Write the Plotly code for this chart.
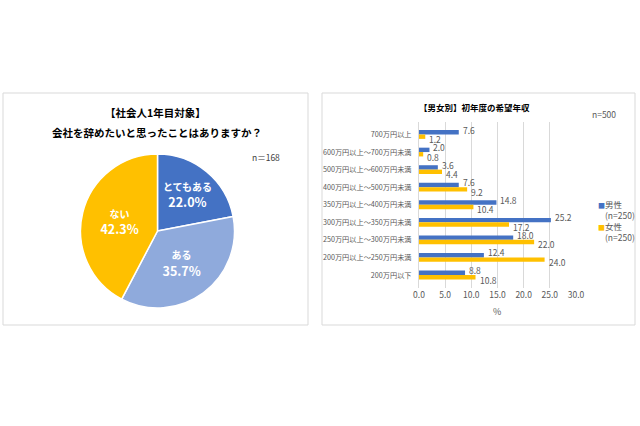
import plotly.graph_objects as go

W, H = 640, 426
FONT = "Noto Sans CJK JP"

# Pie data
pie_labels = ["とてもある", "ある", "ない"]
pie_values = [22.0, 35.7, 42.3]
pie_colors = ["#4472C4", "#8FAADC", "#FFC000"]

# Bar data
categories = ["700万円以上", "600万円以上～700万円未満", "500万円以上～600万円未満",
              "400万円以上～500万円未満", "350万円以上～400万円未満", "300万円以上～350万円未満",
              "250万円以上～300万円未満", "200万円以上～250万円未満", "200万円以下"]
male = [7.6, 2.0, 3.6, 7.6, 14.8, 25.2, 18.0, 12.4, 8.8]
female = [1.2, 0.8, 4.4, 9.2, 10.4, 17.2, 22.0, 24.0, 10.8]
series_names = ["男性", "女性"]
series_n = ["(n=250)", "(n=250)"]
bar_colors = ["#4472C4", "#FFC000"]
x_ticks = [0, 5, 10, 15, 20, 25, 30]

GRAY = "#595959"


def px(x):
    return x / W


def py(y):
    return 1 - y / H


fig = go.Figure()

fig.add_trace(go.Pie(
    labels=pie_labels, values=pie_values, sort=False, direction="clockwise",
    rotation=0,
    marker=dict(colors=pie_colors, line=dict(color="white", width=1.5)),
    texttemplate="<span style='font-size:10px'>%{label}</span><br>%{percent:.1%}",
    textinfo="text",
    textposition="inside", insidetextorientation="horizontal",
    textfont=dict(family=FONT, size=12.5, color="white", weight="bold"),
    domain=dict(x=[px(80), px(235)], y=[py(308), py(154)]),
    showlegend=False, hoverinfo="skip",
))

for vals, name, col in zip([male, female], series_names, bar_colors):
    fig.add_trace(go.Bar(
        y=categories, x=vals, orientation="h", name=name,
        marker=dict(color=col, line=dict(width=0)),
        xaxis="x", yaxis="y", showlegend=False, hoverinfo="skip",
    ))

shapes = [
    dict(type="rect", xref="paper", yref="paper", x0=px(3), x1=px(308), y0=py(325), y1=py(93),
         line=dict(color="#D9D9D9", width=1)),
    dict(type="rect", xref="paper", yref="paper", x0=px(322), x1=px(635), y0=py(325), y1=py(93),
         line=dict(color="#D9D9D9", width=1)),
]


def note(text, x, y, size, color=GRAY, bold=False, xanchor="center"):
    f = dict(family=FONT, size=size, color=color)
    if bold:
        f["weight"] = "bold"
    return dict(text=text, x=px(x), y=py(y), xref="paper", yref="paper",
                xanchor=xanchor, yanchor="middle", showarrow=False, font=f)


annotations = [
    note("【社会人1年目対象】", 155, 113, 10.5, "#000000", True),
    note("会社を辞めたいと思ったことはありますか？", 157, 133, 10.5, "#000000", True),
    note("n＝168", 266, 157, 8.5, "#404040"),
    note("【男女別】初年度の希望年収", 474, 107, 8.5, "#000000", True),
    note("n=500", 604, 114, 8.5),
    note("%", 497, 311, 9),
]

# data labels for bars
for vals, shift in [(male, 5), (female, -4.5)]:
    for cat, v in zip(categories, vals):
        annotations.append(dict(
            text=f"{v:.1f}", x=v, y=cat, xref="x", yref="y", xanchor="left", yanchor="middle",
            xshift=2, yshift=shift, showarrow=False,
            font=dict(family=FONT, size=8.5, color=GRAY)))

# legend as text
legend_y = [204, 215, 226, 237]
for i, (name, n, col) in enumerate(zip(series_names, series_n, bar_colors)):
    annotations.append(note(f"<span style='color:{col};font-size:7px'>■</span>{name}", 596,
                            legend_y[2 * i], 8.5, xanchor="left"))
    annotations.append(note(n, 603, legend_y[2 * i + 1], 8.5, xanchor="left"))

fig.update_layout(
    width=W, height=H, margin=dict(l=0, r=0, t=0, b=0, autoexpand=False),
    paper_bgcolor="white", plot_bgcolor="white",
    font=dict(family=FONT, color=GRAY),
    barmode="group", bargap=0.5, bargroupgap=0,
    showlegend=False,
    xaxis=dict(domain=[px(419), px(576)], range=[0, 30], tickvals=x_ticks,
               ticktext=[f"{v:.1f}" for v in x_ticks], showgrid=True, gridcolor="#D9D9D9",
               gridwidth=1, zeroline=False, showline=False, ticks="", automargin=False,
               tickfont=dict(family=FONT, size=8.5, color=GRAY), anchor="y"),
    yaxis=dict(domain=[py(288), py(122)], autorange="reversed", showgrid=False,
               showline=True, linecolor="#D9D9D9", ticks="", ticklabelstandoff=5, automargin=False,
               tickfont=dict(family=FONT, size=7.2, color=GRAY), anchor="x"),
    shapes=shapes, annotations=annotations,
)

fig.write_html("out.html")
